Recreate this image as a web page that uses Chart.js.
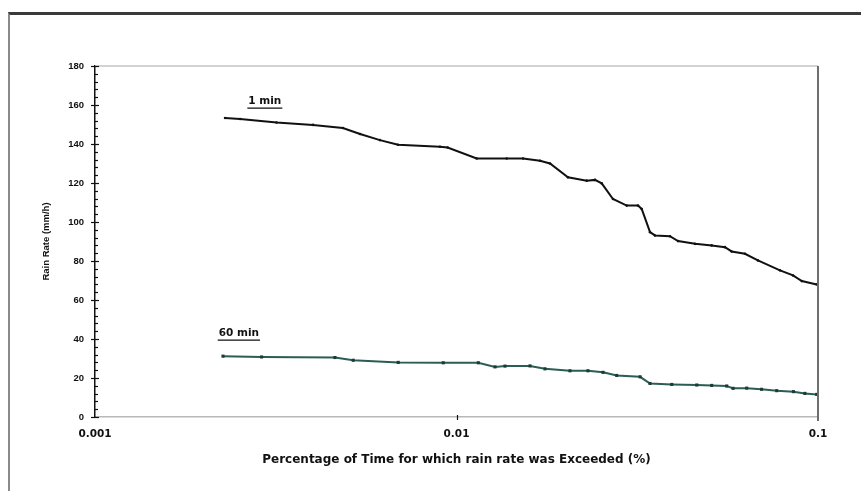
<!DOCTYPE html>
<html>
<head>
<meta charset="utf-8">
<script src="https://cdn.jsdelivr.net/npm/chart.js@4"></script>
<style>
  html, body { margin: 0; padding: 0; background: #fff; }
  body { width: 861px; height: 491px; position: relative; overflow: hidden; }
  .frame {
    position: absolute; left: 8px; top: 12px; width: 880px; height: 520px;
    border-left: 2px solid #8a8a8a; border-top: 3px solid #3a3a3a;
  }
  #rainChart { position: absolute; left: 0; top: 0; }
</style>
</head>
<body>
<div class="frame"></div>
<canvas id="rainChart" width="861" height="491"></canvas>
<script>
// Percentage of time exceeded (%) and rain rate (mm/h), 1 minute integration
const pct1min = [0.00229, 0.00252, 0.00318, 0.00401, 0.00485, 0.00541, 0.00614, 0.00689, 0.00900, 0.00945,
                 0.01137, 0.01377, 0.01528, 0.01702, 0.01814, 0.02034, 0.02292, 0.02416, 0.02522, 0.02709,
                 0.02957, 0.03177, 0.03253, 0.03430, 0.0354, 0.03895, 0.0410, 0.0457, 0.0508, 0.0553,
                 0.0577, 0.0628, 0.0682, 0.0785, 0.0853, 0.0902, 0.0992];
const rate1min = [153.3, 152.8, 151.0, 149.8, 148.2, 145.1, 142.0, 139.6, 138.6, 138.2,
                  132.6, 132.6, 132.6, 131.4, 130.0, 122.9, 121.2, 121.6, 119.8, 111.8,
                  108.4, 108.4, 106.7, 94.8, 93.1, 92.7, 90.2, 88.8, 88.0, 87.1,
                  84.9, 83.7, 80.3, 75.2, 72.6, 69.7, 68.0];

// Same, 60 minute integration
const pct60min = [0.00226, 0.00289, 0.00461, 0.00518, 0.00690, 0.00919, 0.01149, 0.01278, 0.01362, 0.01597,
                  0.01757, 0.0206, 0.0231, 0.02543, 0.02775, 0.0322, 0.0343, 0.0394, 0.0462, 0.0508,
                  0.0559, 0.0582, 0.0635, 0.0698, 0.0769, 0.0855, 0.0920, 0.0992];
const rate60min = [31.2, 30.8, 30.5, 29.1, 28.0, 27.8, 27.8, 25.7, 26.1, 26.2,
                   24.7, 23.7, 23.7, 22.9, 21.3, 20.6, 17.2, 16.7, 16.4, 16.2,
                   15.9, 14.7, 14.8, 14.2, 13.5, 13.0, 12.1, 11.6];

const xTicks = [0.001, 0.01, 0.1];
const xTickLabels = ['0.001', '0.01', '0.1'];
const yMajorStep = 20;
const yMinorStep = 4;

// curve names, anchored in data units
const seriesLabels = [
    { text: '1 min', x: 0.00295, y: 162 },
    { text: '60 min', x: 0.0025, y: 43 }
];

function toPoints(xs, ys) {
    return xs.map((x, i) => ({ x: x, y: ys[i] }));
}

const FONT = '"Liberation Sans", Arial, sans-serif';
const WIDE = '"DejaVu Sans", Verdana, sans-serif';

// Axis crosses, minor ticks, plot border and curve names
const decorPlugin = {
    id: 'decor',
    afterDraw(chart) {
        const ctx = chart.ctx;
        const area = chart.chartArea;
        const xs = chart.scales.x;
        const ys = chart.scales.y;
        ctx.save();

        // top and right border of the plot
        ctx.strokeStyle = '#c4c4c4';
        ctx.lineWidth = 1.5;
        ctx.beginPath();
        ctx.moveTo(area.left, area.top);
        ctx.lineTo(area.right, area.top);
        ctx.stroke();
        ctx.strokeStyle = '#6e6e6e';
        ctx.lineWidth = 2;
        ctx.beginPath();
        ctx.moveTo(area.right, area.top);
        ctx.lineTo(area.right, area.bottom + 4);
        ctx.stroke();

        // y ticks: crosses at the labelled values, short inner marks between
        ctx.strokeStyle = '#111';
        ctx.lineWidth = 1.2;
        for (let v = ys.min; v <= ys.max; v += yMinorStep) {
            const py = Math.round(ys.getPixelForValue(v)) + 0.5;
            const major = v % yMajorStep === 0;
            ctx.beginPath();
            ctx.moveTo(area.left - (major ? 4 : 0), py);
            ctx.lineTo(area.left + (major ? 4 : 3), py);
            ctx.stroke();
        }

        // x tick at 0.01
        ctx.beginPath();
        const px = Math.round(xs.getPixelForValue(0.01)) + 0.5;
        ctx.moveTo(px, area.bottom - 2);
        ctx.lineTo(px, area.bottom + 3);
        ctx.stroke();

        // curve names, underlined
        ctx.fillStyle = '#111';
        ctx.font = 'bold 10.5px ' + WIDE;
        ctx.textAlign = 'center';
        ctx.textBaseline = 'middle';
        seriesLabels.forEach(function(l) {
            const lx = xs.getPixelForValue(l.x);
            const ly = ys.getPixelForValue(l.y);
            ctx.fillText(l.text, lx, ly);
            const w = ctx.measureText(l.text).width;
            ctx.lineWidth = 1.2;
            ctx.beginPath();
            ctx.moveTo(lx - w / 2 - 1, ly + 7);
            ctx.lineTo(lx + w / 2 + 1, ly + 7);
            ctx.stroke();
        });
        ctx.restore();
    }
};

const chart = new Chart(document.getElementById('rainChart').getContext('2d'), {
    type: 'line',
    data: {
        datasets: [{
            label: '1 min',
            data: toPoints(pct1min, rate1min),
            borderColor: '#111',
            backgroundColor: '#111',
            borderWidth: 2,
            pointRadius: 1.3,
            pointBorderWidth: 0,
            tension: 0
        }, {
            label: '60 min',
            data: toPoints(pct60min, rate60min),
            borderColor: '#2a5e52',
            backgroundColor: '#1b3b34',
            borderWidth: 2,
            pointStyle: 'rect',
            pointRadius: 2.2,
            pointBorderWidth: 0,
            tension: 0
        }]
    },
    options: {
        responsive: false,
        animation: false,
        parsing: false,
        layout: { padding: { left: 0, top: 66, right: 43, bottom: 0 } },
        plugins: {
            legend: { display: false },
            tooltip: { enabled: false }
        },
        scales: {
            x: {
                type: 'logarithmic',
                min: 0.001,
                max: 0.1,
                afterBuildTicks: function(scale) {
                    scale.ticks = xTicks.map(v => ({ value: v }));
                },
                afterFit: function(scale) { scale.height = 74; },
                grid: { display: false, drawTicks: false },
                border: { display: true, color: '#b8b8b8', width: 1.5 },
                ticks: {
                    padding: 11,
                    autoSkip: false,
                    maxRotation: 0,
                    color: '#111',
                    font: { family: WIDE, size: 10.5, weight: 'bold' },
                    callback: function(value) {
                        const i = xTicks.indexOf(value);
                        return i >= 0 ? xTickLabels[i] : '';
                    }
                },
                title: {
                    display: true,
                    text: 'Percentage of Time for which rain rate was Exceeded (%)',
                    color: '#111',
                    font: { family: WIDE, size: 12, weight: 'bold' },
                    padding: { top: 0, bottom: 24 }
                }
            },
            y: {
                min: 0,
                max: 180,
                ticks: {
                    stepSize: yMajorStep,
                    padding: 11,
                    color: '#111',
                    font: { family: FONT, size: 9.5, weight: 'bold' }
                },
                afterFit: function(scale) { scale.width = 95; },
                grid: { display: false, drawTicks: false },
                border: { display: true, color: '#111', width: 1.5 },
                title: {
                    display: true,
                    text: 'Rain Rate (mm/h)',
                    color: '#111',
                    font: { family: FONT, size: 9.5, weight: 'bold' },
                    padding: { top: 41, bottom: 0 }
                }
            }
        }
    },
    plugins: [decorPlugin]
});
</script>
</body>
</html>
